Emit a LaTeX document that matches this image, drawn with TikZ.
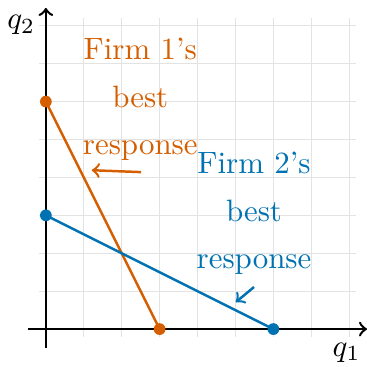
\documentclass[tikz,border=0pt]{standalone}
\usepackage{tikz}
\definecolor{vermil}{HTML}{D55E00}
\definecolor{okblue}{HTML}{0072B2}
\tikzset{
  gridline/.style={gray!22, line width=0.4pt},
  axisline/.style={thick, ->},
  brline/.style={thick},
  dotnode/.style={circle, fill, inner sep=0pt, minimum size=3.8pt},
  lbl/.style={align=center, font=\normalsize},
  ptr/.style={thick, ->},
}
\begin{document}
\begin{tikzpicture}[x=0.431cm, y=0.431cm]
\useasboundingbox (-1.21,-1.0) rectangle (8.47,8.68);
\draw[gridline, step={(1,1)}] (-0.19,-0.2) grid (8.19,8.2);
\draw[axisline] (-0.47,0) -- (8.47,0);
\draw[axisline] (0,-0.5) -- (0,8.47);
\node (q1) at (7.93,-0.62) {$q_1$};
\node (q2) at (-0.65,8.02) {$q_2$};
% Firm 1 best response
\node[dotnode, vermil] (a1) at (0,6) {};
\node[dotnode, vermil] (b1) at (3,0) {};
\draw[brline, vermil] (a1.center) -- (b1.center);
% Firm 2 best response
\node[dotnode, okblue] (a2) at (0,3) {};
\node[dotnode, okblue] (b2) at (6,0) {};
\draw[brline, okblue] (a2.center) -- (b2.center);
% labels
\node[lbl, text=vermil] (l1) at (2.49,6.06) {Firm 1's\\[3.4pt] best\\[3.4pt] response};
\node[lbl, text=okblue] (l2) at (5.49,3.05) {Firm 2's\\[3.4pt] best\\[3.4pt] response};
\coordinate (s1) at (2.51,4.14);
\coordinate (e1) at (1.21,4.19);
\draw[ptr, vermil] (s1) -- (e1);
\coordinate (s2) at (5.49,1.11);
\coordinate (e2) at (5.01,0.71);
\draw[ptr, okblue] (s2) -- (e2);
\end{tikzpicture}
\end{document}
